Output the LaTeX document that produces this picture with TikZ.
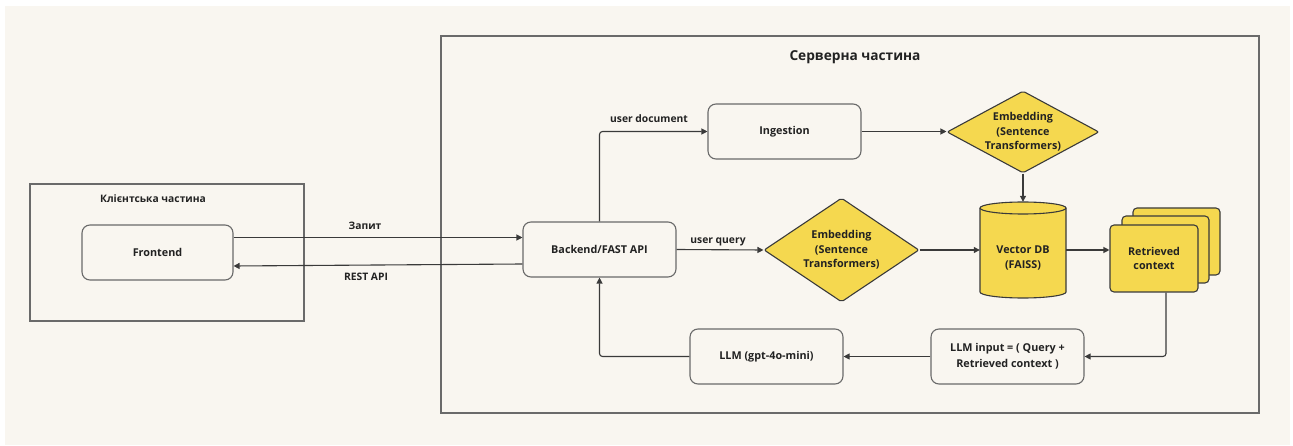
\documentclass[tikz,border=0pt]{standalone}
\usepackage{fontspec}
\setmainfont{Open Sans}
\usetikzlibrary{arrows.meta,shapes.geometric,calc}
\definecolor{bgc}{HTML}{F9F6F0}
\definecolor{ylw}{HTML}{F5D84F}
\definecolor{lnc}{HTML}{3A3A3A}
\definecolor{boxc}{HTML}{6A6A6A}
\definecolor{txc}{HTML}{222222}
\tikzset{
  every node/.style={font=\bfseries\fontsize{10.8}{15.5}\selectfont, text=txc},
  area/.style={draw=boxc, line width=1.3pt},
  rbox/.style={draw=boxc, fill=bgc, line width=1.1pt, rounded corners=8pt, inner sep=0pt, align=center},
  dia/.style={diamond, draw=lnc, fill=ylw, line width=1.1pt, inner sep=0pt, rounded corners=2pt},
  ycard/.style={draw=lnc, fill=ylw, line width=1.1pt, rounded corners=4pt},
  ytext/.style={align=center, font=\bfseries\fontsize{10.8}{14.5}\selectfont},
  arr/.style={draw=lnc, line width=1.1pt, -{Triangle[length=6pt,width=6pt]}, rounded corners=3pt},
  lbl/.style={font=\bfseries\fontsize{10.3}{12}\selectfont},
  ttl/.style={font=\bfseries\fontsize{13.7}{16}\selectfont}
}
\begin{document}
\begin{tikzpicture}[x=1pt,y=-1pt]
\useasboundingbox (0,0) rectangle (1293,446);
\fill[white] (0,0) rectangle (1293,446);
\fill[bgc] (5,6) rectangle (1290,445);
% areas
\draw[area] (30,184) rectangle (304,321);
\draw[area] (441,36) rectangle (1259,413);
\node[lbl] (ctitle) at (153,199) {Клієнтська частина};
\node[ttl] (stitle) at (855,57) {Серверна частина};
% boxes
\node[rbox, minimum width=151pt, minimum height=55pt] (fe) at (157.5,252.5) {Frontend};
\node[rbox, minimum width=153pt, minimum height=55pt] (be) at (599.5,249.5) {Backend/FAST API};
\node[rbox, minimum width=153pt, minimum height=55pt] (ing) at (784.5,131.5) {Ingestion};
\node[rbox, minimum width=153pt, minimum height=55pt] (llm) at (766.5,356.5) {LLM (gpt-4o-mini)};
\node[rbox, minimum width=153pt, minimum height=55pt] (li) at (1007.5,356.5) {LLM input = ( Query +\\Retrieved context )};
% diamonds
\node[dia, minimum width=152pt, minimum height=82pt] (emb1) at (1023,132) {};
\node[ytext] at (emb1) {Embedding\\(Sentence\\Transformers)};
\node[dia, minimum width=155pt, minimum height=104pt] (emb2) at (841.5,250) {};
\node[ytext] at (emb2) {Embedding\\(Sentence\\Transformers)};
% cylinder
\node[minimum width=86pt, minimum height=96pt, inner sep=0pt] (vdb) at (1023,250) {};
\draw[ycard, rounded corners=0pt] (980,208) -- (980,292) arc[start angle=180,end angle=360,x radius=43pt,y radius=6pt] -- (1066,208) arc[start angle=0,end angle=180,x radius=43pt,y radius=6pt] -- cycle;
\draw[draw=lnc, line width=1.1pt] (980,208) arc[start angle=180,end angle=360,x radius=43pt,y radius=6pt];
\node[ytext] at (1023,258) {Vector DB\\(FAISS)};
% retrieved context stack
\draw[ycard] (1133,208) rectangle (1220,275);
\draw[ycard] (1122,216) rectangle (1209,283);
\node[ycard, minimum width=88pt, minimum height=67pt, inner sep=0pt, ytext] (rc) at (1154,258.5) {Retrieved\\context};
% connectors
\draw[arr] (fe.east |- 0,237.5) -- (be.west |- 0,237.5);
\draw[arr] (be.west |- 0,264) -- (fe.east |- 0,266);
\node[lbl] at (365,226) {Запит};
\node[lbl] at (366,277) {REST API};
\draw[arr] (be.north) |- (ing.west);
\node[lbl] at (649,119) {user document};
\draw[arr] (ing.east) -- (emb1.west |- ing.east);
\draw[arr] (emb1.south) -- (vdb.north);
\draw[arr] (be.east) -- (emb2.west);
\node[lbl] at (718,242) {user query};
\draw[arr] (emb2.east) -- (vdb.west);
\draw[arr] (vdb.east) -- (rc.west |- vdb.east);
\draw[arr] ($(rc.south)+(12pt,0)$) |- (li.east);
\draw[arr] (li.west) -- (llm.east);
\draw[arr] (llm.west) -| (be.south);
\end{tikzpicture}
\end{document}
